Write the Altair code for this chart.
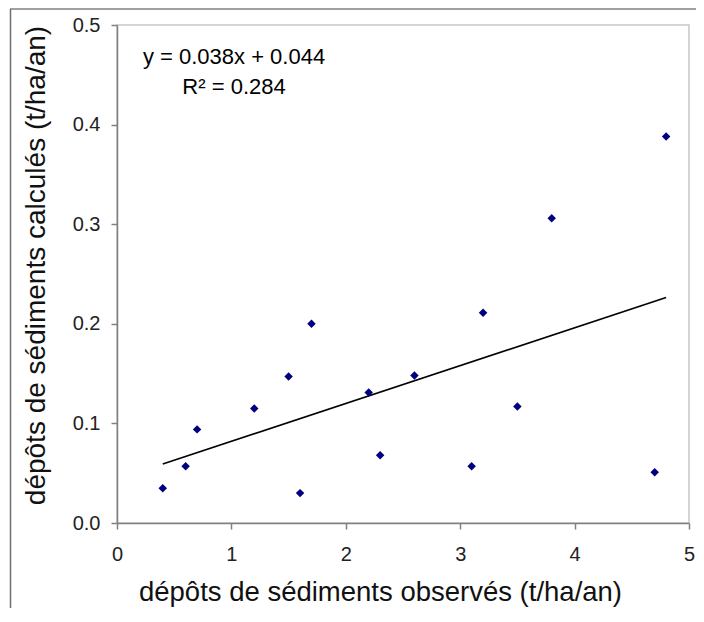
import altair as alt
import pandas as pd

# observed vs computed sediment deposits (t/ha/an)
obs = [0.4, 0.6, 0.7, 1.2, 1.5, 1.6, 1.7, 2.2, 2.3, 2.6, 3.1, 3.2, 3.5, 3.8, 4.7, 4.8]
calc = [0.035, 0.057, 0.094, 0.115, 0.147, 0.030, 0.200, 0.131, 0.068, 0.148,
        0.057, 0.211, 0.117, 0.306, 0.051, 0.388]

slope = 0.038
intercept = 0.044
eq_lines = ["y = 0.038x + 0.044", "R² = 0.284"]
eq_x = [1.023, 1.023]
eq_y = [0.461, 0.4307]

x_ticks = [0, 1, 2, 3, 4, 5]
y_ticks = [0.0, 0.1, 0.2, 0.3, 0.4, 0.5]

x_title = "dépôts de sédiments observés (t/ha/an)"
y_title = "dépôts de sédiments calculés (t/ha/an)"

FONT = "Liberation Sans"

pts = pd.DataFrame({"obs": obs, "calc": calc})
xmin, xmax = min(obs), max(obs)
trend = pd.DataFrame({"obs": [xmin, xmax],
                      "calc": [intercept + slope * xmin, intercept + slope * xmax]})
labels = pd.DataFrame({"x": eq_x, "y": eq_y, "t": eq_lines})

xs = alt.Scale(domain=[0, 5], nice=False, zero=False)
ys = alt.Scale(domain=[0, 0.5], nice=False)

common_axis = dict(grid=False, domainColor="#808080", domainWidth=1.5,
                   tickColor="#808080", tickWidth=1.5, tickSize=6,
                   labelFont=FONT, labelFontSize=20, labelColor="#222222",
                   labelFlush=False, labelOverlap=False, labelBound=False,
                   titleFont=FONT, titleFontWeight="normal", titleColor="#111111")

xaxis = alt.Axis(values=x_ticks, format="d", labelPadding=15,
                 titleFontSize=27.5, titleX=263, titleY=77,
                 titleAlign="center", titleBaseline="alphabetic", **common_axis)
yaxis = alt.Axis(values=y_ticks, format=".1f", labelPadding=11,
                 titleFontSize=28, titleX=-72.5, titleY=240, titleAngle=270,
                 titleAlign="center", titleBaseline="alphabetic", **common_axis)

points = alt.Chart(pts).mark_point(shape="diamond", filled=True, size=72,
                                   color="#000080", opacity=1).encode(
    x=alt.X("obs:Q", scale=xs, axis=xaxis, title=x_title),
    y=alt.Y("calc:Q", scale=ys, axis=yaxis, title=y_title),
)

line = alt.Chart(trend).mark_line(color="black", strokeWidth=1.6).encode(
    x=alt.X("obs:Q", scale=xs),
    y=alt.Y("calc:Q", scale=ys),
)

text = alt.Chart(labels).mark_text(font=FONT, fontSize=22, align="center",
                                   baseline="alphabetic", color="black").encode(
    x=alt.X("x:Q", scale=xs),
    y=alt.Y("y:Q", scale=ys),
    text="t:N",
)

frame_df = pd.DataFrame({"a": [0]})
frame_top = alt.Chart(frame_df).mark_rule(color="#a0a0a0", strokeWidth=2).encode(
    x=alt.value(-107), x2=alt.value(580), y=alt.value(-16))
frame_left = alt.Chart(frame_df).mark_rule(color="#707070", strokeWidth=1.5).encode(
    x=alt.value(-106.5), y=alt.value(-16), y2=alt.value(590))

chart = alt.layer(frame_top, frame_left, line, points, text).properties(
    width=572, height=498,
    autosize=alt.AutoSizeParams(type="none"),
    padding={"left": 109, "top": 17, "right": 7, "bottom": 85},
).configure_view(stroke="#c8c8c8", strokeWidth=1.5)

chart.save("out.html", embed_options={"renderer": "svg", "actions": False})
